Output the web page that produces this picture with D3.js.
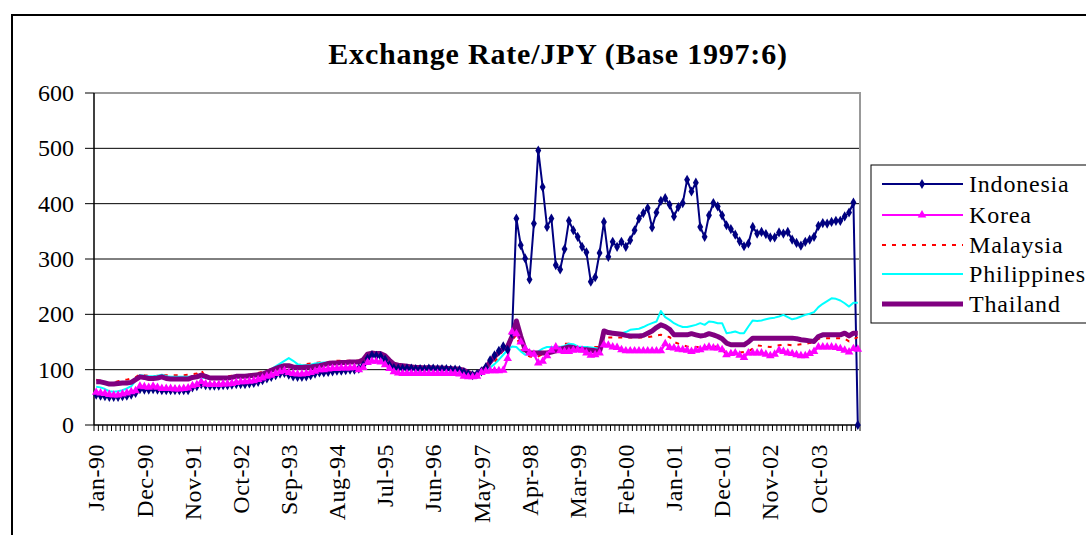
<!DOCTYPE html>
<html>
<head>
<meta charset="utf-8">
<style>
body { margin: 0; background: #fff; }
svg { display: block; font-family: "Liberation Serif", "Times New Roman", serif; }
.title { font-size: 30px; font-weight: bold; }
.tick-label { font-size: 24px; }
.legend-label { font-size: 24px; letter-spacing: 0.8px; }
.grid { stroke: #000; stroke-width: 1; }
</style>
</head>
<body>
<svg width="1086" height="535"></svg>
<script src="https://d3js.org/d3.v7.min.js"></script>
<script>

// monthly values, Jan-90 .. Jul-04
var indonesia = [
  55,53,52,51,51,51,52,53,55,58,65,64,
  64,65,64,63,63,63,63,63,63,63,68,70,
  74,72,71,71,71,72,72,73,74,74,74,75,
  76,78,81,84,87,90,93,94,91,88,87,87,
  88,90,93,95,95,96,97,98,98,99,100,100,
  102,108,120,126,125,124,118,108,103,102,102,102,
  102,101,101,101,102,102,101,101,101,100,100,99,
  95,92,90,92,97,104,117,126,134,142,136,165,
  373,325,301,263,364,496,430,358,373,289,281,318,
  369,352,340,322,312,259,267,311,367,304,331,322,
  331,322,334,352,373,383,392,357,384,405,410,398,
  377,394,401,443,422,438,358,340,379,401,395,379,
  361,354,344,332,323,328,358,346,349,345,339,339,
  348,346,349,335,329,324,331,335,340,360,365,364,
  367,369,369,377,384,402,0
];
var korea = [
  59,58,57,55,54,54,56,58,60,62,70,69,
  68,70,68,66,66,66,65,65,66,67,71,73,
  78,74,73,73,73,74,74,75,77,78,78,79,
  80,82,85,88,90,93,96,98,95,93,92,92,
  93,95,97,100,100,101,102,102,103,103,103,104,
  100,104,113,115,115,114,109,102,96,94,93,93,
  93,93,93,93,93,93,93,93,93,93,93,92,
  88,87,87,88,95,97,98,98,98,99,120,168,
  165,150,138,130,128,112,115,125,135,141,134,133,
  133,135,136,135,130,126,127,130,145,144,141,140,
  136,134,134,134,134,134,134,134,134,134,147,140,
  139,137,136,135,133,135,136,139,141,139,139,136,
  127,129,130,126,122,130,130,130,130,128,125,128,
  135,133,130,129,127,125,125,129,133,141,141,141,
  141,140,138,135,132,138,137
];
var malaysia = [
  82,80,77,76,77,79,81,82,84,86,92,90,
  89,88,89,90,90,90,90,90,90,91,92,93,
  99,86,85,85,85,86,88,89,90,90,90,91,
  92,94,96,98,101,104,106,107,108,109,108,109,
  110,111,112,113,114,114,115,116,116,116,116,116,
  117,120,127,131,129,128,122,115,110,108,107,107,
  106,105,105,104,104,104,104,104,103,103,103,102,
  100,96,91,92,96,101,106,114,124,135,145,153,
  163,136,127,124,123,124,128,132,134,138,143,147,
  147,143,141,141,141,141,141,141,158,158,158,158,
  158,158,158,158,158,158,159,160,162,163,160,159,
  150,147,144,142,141,141,141,141,141,142,141,141,
  127,128,130,131,132,133,138,144,143,142,141,143,
  144,145,145,144,145,146,147,148,150,156,157,157,
  157,157,157,156,151,155,159
];
var philippines = [
  69,68,65,61,60,61,63,66,70,80,90,89,
  88,88,89,91,88,87,87,87,87,87,87,87,
  86,85,84,84,84,84,85,85,86,87,87,88,
  88,90,93,97,101,106,111,116,121,116,110,108,
  108,109,111,112,113,113,114,113,113,113,114,115,
  116,120,128,131,130,128,121,114,109,107,106,106,
  105,104,104,104,104,104,103,103,103,102,102,102,
  100,96,92,92,96,100,104,110,118,127,136,142,
  141,133,127,128,130,133,138,141,141,140,141,143,
  147,146,142,141,141,140,139,138,171,169,168,166,
  166,168,172,173,174,177,181,184,187,206,195,190,
  184,180,177,177,179,181,184,181,187,186,184,184,
  166,167,169,166,166,178,189,188,189,191,193,194,
  196,199,195,191,193,196,199,201,204,213,219,224,
  229,228,225,220,214,221,221
];
var thailand = [
  78,78,76,74,74,75,76,76,77,82,87,86,
  84,84,85,87,84,83,83,83,83,83,86,87,
  90,88,85,85,85,85,85,86,88,88,88,89,
  90,91,92,95,99,102,105,107,107,105,104,104,
  105,105,106,107,109,111,112,112,113,113,114,114,
  114,118,128,130,129,129,125,117,110,108,107,106,
  105,104,104,103,104,103,103,103,102,102,101,101,
  99,95,91,92,98,104,114,124,131,138,142,160,
  188,160,136,130,130,130,130,130,132,134,137,139,
  141,140,137,136,136,135,134,133,170,167,166,165,
  164,162,161,161,161,162,166,170,176,181,178,173,
  163,163,163,163,165,163,161,162,165,163,160,156,
  148,145,145,145,145,150,157,157,157,157,157,157,
  157,157,157,157,156,154,153,152,151,160,163,163,
  163,163,163,166,161,166,166
];

var seriesNames = ["Indonesia", "Korea", "Malaysia", "Philippines", "Thailand"];
var tickLabels = ["Jan-90","Dec-90","Nov-91","Oct-92","Sep-93","Aug-94","Jul-95","Jun-96",
  "May-97","Apr-98","Mar-99","Feb-00","Jan-01","Dec-01","Nov-02","Oct-03"];
var yTicks = [0, 100, 200, 300, 400, 500, 600];

var fmt = d3.timeFormat("%b-%y");
var months = d3.timeMonth.range(new Date(1990, 0, 1), new Date(2004, 7, 1)).map(fmt);

var series = [
  {values: indonesia, color: "#000080", width: 2, marker: "diamond"},
  {values: korea, color: "#ff00ff", width: 2.2, marker: "triangle"},
  {values: malaysia, color: "#ff0000", width: 2, dash: "4,6"},
  {values: philippines, color: "#00ffff", width: 2},
  {values: thailand, color: "#800080", width: 5}
];
series.forEach(function(s, i) { s.name = seriesNames[i]; });

var svg = d3.select("svg");
var plotLeft = 94, plotRight = 860, plotTop = 93, plotBottom = 425;

// outer chart frame
svg.append("path")
  .attr("d", "M12,535 L12,15 L1086,15")
  .attr("fill", "none").attr("stroke", "#000").attr("stroke-width", 2);

svg.append("text").attr("class", "title")
  .attr("x", 558).attr("y", 64)
  .attr("text-anchor", "middle")
  .style("letter-spacing", "0.8px")
  .text("Exchange Rate/JPY (Base 1997:6)");

var x = d3.scaleBand().domain(months).range([plotLeft, plotRight]).padding(0);
var y = d3.scaleLinear().domain([0, 600]).range([plotBottom, plotTop]);
var cx = function(i) { return x(months[i]) + x.bandwidth() / 2; };

// gridlines
svg.selectAll(".grid").data(yTicks.filter(function(d) { return d > 0 && d < 600; }))
  .enter().append("line").attr("class", "grid")
  .attr("x1", plotLeft).attr("x2", plotRight)
  .attr("y1", function(d) { return y(d); }).attr("y2", function(d) { return y(d); });

// plot area border (top/right)
svg.append("path")
  .attr("d", "M" + plotLeft + "," + y(600) + " L" + plotRight + "," + y(600) + " L" + plotRight + "," + plotBottom)
  .attr("fill", "none").attr("stroke", "#999").attr("stroke-width", 2);

// y axis
var yAxis = svg.append("g");
yAxis.append("line").attr("x1", plotLeft).attr("x2", plotLeft).attr("y1", plotTop).attr("y2", plotBottom)
  .attr("stroke", "#000").attr("stroke-width", 1.5);
yAxis.selectAll(".yt").data(yTicks).enter().append("line")
  .attr("x1", plotLeft - 9).attr("x2", plotLeft)
  .attr("y1", function(d) { return y(d); }).attr("y2", function(d) { return y(d); })
  .attr("stroke", "#000");
yAxis.selectAll(".yl").data(yTicks).enter().append("text")
  .attr("class", "tick-label")
  .attr("x", 74).attr("y", function(d) { return y(d); })
  .attr("dy", "0.34em").attr("text-anchor", "end")
  .text(function(d) { return d; });

// x axis
var xAxis = svg.append("g");
xAxis.append("line").attr("x1", plotLeft).attr("x2", plotRight).attr("y1", plotBottom).attr("y2", plotBottom)
  .attr("stroke", "#000").attr("stroke-width", 1.5);
xAxis.selectAll(".xt").data(months.concat(["end"])).enter().append("line")
  .attr("x1", function(d, i) { return i < months.length ? x(d) : plotRight; })
  .attr("x2", function(d, i) { return i < months.length ? x(d) : plotRight; })
  .attr("y1", plotBottom).attr("y2", plotBottom + 6)
  .attr("stroke", "#000").attr("stroke-width", 1);
xAxis.selectAll(".xl").data(tickLabels).enter().append("text")
  .attr("class", "tick-label")
  .attr("transform", function(d) {
    return "translate(" + (x(d) + x.bandwidth() / 2) + ",444) rotate(-90)";
  })
  .attr("dy", "0.34em").attr("text-anchor", "end")
  .style("letter-spacing", "0.5px")
  .text(function(d) { return d; });

// lines
var line = d3.line().x(function(d, i) { return cx(i); }).y(function(d) { return y(d); });
series.forEach(function(s) {
  svg.append("path")
    .attr("d", line(s.values))
    .attr("fill", "none")
    .attr("stroke", s.color)
    .attr("stroke-width", s.width)
    .attr("stroke-dasharray", s.dash || null)
    .attr("stroke-linejoin", "round");
});

// markers on top
var symbolFor = { diamond: d3.symbol().type(d3.symbolDiamond).size(30),
                  triangle: d3.symbol().type(d3.symbolTriangle).size(32) };
series.filter(function(s) { return s.marker; }).forEach(function(s) {
  svg.append("g").selectAll("path").data(s.values).enter().append("path")
    .attr("d", symbolFor[s.marker])
    .attr("transform", function(d, i) { return "translate(" + cx(i) + "," + y(d) + ")"; })
    .attr("fill", s.color);
});

// legend
var legend = svg.append("g");
legend.append("rect").attr("x", 871).attr("y", 165).attr("width", 240).attr("height", 158)
  .attr("fill", "#fff").attr("stroke", "#000").attr("stroke-width", 1);
var ly = [184, 215, 245, 274, 304];
series.forEach(function(s, i) {
  legend.append("line")
    .attr("x1", 882).attr("x2", 963).attr("y1", ly[i]).attr("y2", ly[i])
    .attr("stroke", s.color).attr("stroke-width", s.width)
    .attr("stroke-dasharray", s.dash || null);
  if (s.marker) {
    legend.append("path").attr("d", symbolFor[s.marker])
      .attr("transform", "translate(922," + ly[i] + ")").attr("fill", s.color);
  }
  legend.append("text").attr("class", "legend-label")
    .attr("x", 969).attr("y", ly[i]).attr("dy", "0.34em")
    .text(s.name);
});

</script>
</body>
</html>
